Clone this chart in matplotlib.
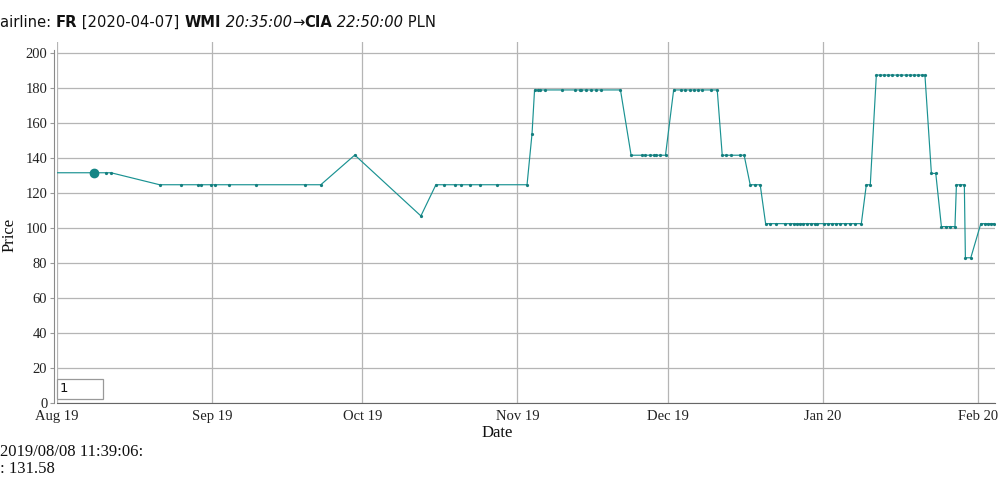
import matplotlib
matplotlib.use("Agg")
import matplotlib.pyplot as plt
import matplotlib.dates as mdates
import matplotlib.patches as mpatches
import pandas as pd

# ---- data ----
dates = [
    "2019-07-28 00:00", "2019-08-08 11:39", "2019-08-10 19:00", "2019-08-11 19:00",
    "2019-08-21 12:00", "2019-08-25 19:00", "2019-08-29 05:00", "2019-08-29 19:00",
    "2019-08-31 17:00", "2019-09-01 12:00", "2019-09-04 07:00", "2019-09-09 17:00",
    "2019-09-19 12:00", "2019-09-22 17:00", "2019-09-29 12:00", "2019-10-12 17:00",
    "2019-10-15 17:00", "2019-10-17 07:00", "2019-10-19 12:00", "2019-10-20 17:00",
    "2019-10-22 14:00", "2019-10-24 14:00", "2019-10-27 22:00", "2019-11-02 22:00",
    "2019-11-03 22:00", "2019-11-04 10:00", "2019-11-05 02:00", "2019-11-05 12:00",
    "2019-11-06 10:00", "2019-11-09 22:00", "2019-11-12 14:00", "2019-11-13 12:00",
    "2019-11-13 17:00", "2019-11-14 17:00", "2019-11-15 17:00", "2019-11-16 17:00",
    "2019-11-17 17:00", "2019-11-21 14:00", "2019-11-23 17:00", "2019-11-25 22:00",
    "2019-11-26 14:00", "2019-11-27 14:00", "2019-11-28 07:00", "2019-11-28 17:00",
    "2019-11-29 10:00", "2019-11-30 14:00", "2019-12-02 05:00", "2019-12-03 14:00",
    "2019-12-04 12:00", "2019-12-05 10:00", "2019-12-06 07:00", "2019-12-07 02:00",
    "2019-12-07 22:00", "2019-12-09 17:00", "2019-12-10 22:00", "2019-12-11 22:00",
    "2019-12-12 17:00", "2019-12-13 14:00", "2019-12-15 10:00", "2019-12-16 07:00",
    "2019-12-17 12:00", "2019-12-18 10:00", "2019-12-19 12:00", "2019-12-20 14:00",
    "2019-12-21 12:00", "2019-12-22 17:00", "2019-12-24 12:00", "2019-12-25 10:00",
    "2019-12-26 07:00", "2019-12-26 22:00", "2019-12-27 10:00", "2019-12-28 02:00",
    "2019-12-28 22:00", "2019-12-29 17:00", "2019-12-30 10:00", "2019-12-30 22:00",
    "2020-01-01 05:00", "2020-01-02 02:00", "2020-01-02 22:00", "2020-01-03 17:00",
    "2020-01-04 12:00", "2020-01-05 12:00", "2020-01-06 12:00", "2020-01-07 12:00",
    "2020-01-08 17:00", "2020-01-09 17:00", "2020-01-10 12:00", "2020-01-11 17:00",
    "2020-01-12 10:00", "2020-01-13 05:00", "2020-01-14 02:00", "2020-01-14 22:00",
    "2020-01-15 22:00", "2020-01-16 17:00", "2020-01-17 14:00", "2020-01-18 10:00",
    "2020-01-19 07:00", "2020-01-20 02:00", "2020-01-20 22:00", "2020-01-21 10:00",
    "2020-01-22 17:00", "2020-01-23 14:00", "2020-01-24 17:00", "2020-01-25 14:00",
    "2020-01-26 12:00", "2020-01-27 10:00", "2020-01-27 17:00", "2020-01-28 10:00",
    "2020-01-29 07:00", "2020-01-29 12:00", "2020-01-30 14:00", "2020-02-01 14:00",
    "2020-02-02 10:00", "2020-02-03 02:00", "2020-02-03 17:00", "2020-02-04 05:00",
]
prices = [
    131.58, 131.58, 131.58, 131.58,
    124.73, 124.73, 124.73, 124.73,
    124.73, 124.73, 124.73, 124.73,
    124.73, 124.73, 141.70, 106.90,
    124.73, 124.73, 124.73, 124.73,
    124.73, 124.73, 124.73, 124.73,
    154.00, 178.90, 178.90, 178.90,
    178.90, 178.90, 178.90, 178.90,
    178.90, 178.90, 178.90, 178.90,
    178.90, 178.90, 141.60, 141.60,
    141.60, 141.60, 141.60, 141.60,
    141.60, 141.60, 178.90, 178.90,
    178.90, 178.90, 178.90, 178.90,
    178.90, 178.90, 178.90, 141.60,
    141.60, 141.60, 141.60, 141.60,
    124.73, 124.73, 124.73, 102.50,
    102.50, 102.50, 102.50, 102.50,
    102.50, 102.50, 102.50, 102.50,
    102.50, 102.50, 102.50, 102.50,
    102.50, 102.50, 102.50, 102.50,
    102.50, 102.50, 102.50, 102.50,
    102.50, 124.73, 124.73, 187.40,
    187.40, 187.40, 187.40, 187.40,
    187.40, 187.40, 187.40, 187.40,
    187.40, 187.40, 187.40, 187.40,
    131.20, 131.20, 100.80, 100.80,
    100.80, 100.80, 124.73, 124.73,
    124.73, 83.00, 83.00, 102.50,
    102.50, 102.50, 102.50, 102.50,
]
highlight_date = "2019-08-08 11:39"
highlight_price = 131.58
x_range = ["2019-08-01 00:00", "2020-02-04 10:00"]
y_ticks = [0, 20, 40, 60, 80, 100, 120, 140, 160, 180, 200]
title_parts = [
    ("airline: ", "normal", "normal"),
    ("FR", "bold", "normal"),
    (" [2020-04-07] ", "normal", "normal"),
    ("WMI", "bold", "normal"),
    (" 20:35:00", "normal", "italic"),
    ("\u2192", "normal", "normal"),
    ("CIA", "bold", "normal"),
    (" 22:50:00", "normal", "italic"),
    (" PLN", "normal", "normal"),
]
info_lines = ["2019/08/08 11:39:06:", ": 131.58"]

# ---- figure ----
W, H = 1003, 504
fig = plt.figure(figsize=(W / 100, H / 100), dpi=100)
serif = ["Liberation Serif", "DejaVu Serif"]

L, R, B, T = 57, 995, 403, 42
ax = fig.add_axes([L / W, 1 - B / H, (R - L) / W, (B - T) / H])

x = pd.to_datetime(dates)
line_col = "#1a9292"
ax.plot(x, prices, color=line_col, lw=0.85, zorder=3)
ax.plot(x, prices, ls="none", marker="o", ms=1.3, color="#157f7f", zorder=4)
ax.plot(pd.to_datetime([highlight_date]), [highlight_price], ls="none",
        marker="o", ms=6.0, color="#148585", zorder=5)

ax.set_xlim(pd.to_datetime(x_range[0]), pd.to_datetime(x_range[1]))
ax.set_ylim(0, 206.3)
ax.set_yticks(y_ticks)
ax.xaxis.set_major_locator(mdates.MonthLocator())
ax.xaxis.set_major_formatter(mdates.DateFormatter("%b %y"))

ax.grid(True, color="#b5b5b5", lw=0.9)
ax.set_axisbelow(True)
for s in ["top", "right"]:
    ax.spines[s].set_visible(False)
ax.spines["left"].set_color("#8a8a8a")
ax.spines["bottom"].set_color("#666666")
ax.spines["left"].set_bounds(0, 201.5)
ax.spines["left"].set_position(("outward", 2))
ax.tick_params(axis="y", length=3, width=0.8, color="#999999", pad=2,
               labelsize=10.5, labelcolor="#222222")
ax.tick_params(axis="x", length=0, pad=5, labelsize=10.5, labelcolor="#222222")
for lab in ax.get_xticklabels() + ax.get_yticklabels():
    lab.set_family(serif)

fig.text(497 / W, 1 - 433 / H, "Date", ha="center", va="center",
         family=serif, fontsize=12, color="#111111")
fig.text(10 / W, 1 - 235 / H, "Price", ha="center", va="center", rotation=90,
         family=serif, fontsize=12, color="#111111")

# input box
box = mpatches.Rectangle((57 / W, 1 - 399 / H), 46 / W, 20 / H,
                         transform=fig.transFigure, facecolor="white",
                         edgecolor="#999999", lw=0.9, zorder=10)
fig.add_artist(box)
fig.text(60 / W, 1 - 389 / H, "1", ha="left", va="center", fontsize=9.5,
         family=["DejaVu Sans"], color="#111111", zorder=11)

# title made of pieces
fig.canvas.draw()
renderer = fig.canvas.get_renderer()
xpos = 0
for txt, weight, style in title_parts:
    t = fig.text(xpos / W, 1 - 27 / H, txt, ha="left", va="baseline",
                 fontsize=10.6, family=["DejaVu Sans"], weight=weight,
                 style=style, color="#111111")
    bb = t.get_window_extent(renderer=renderer)
    xpos = bb.x1

for i, s in enumerate(info_lines):
    fig.text(0, 1 - (456 + 17 * i) / H, s, ha="left", va="baseline",
             fontsize=12, family=serif, color="#111111")

fig.savefig("out.png", dpi=100)
